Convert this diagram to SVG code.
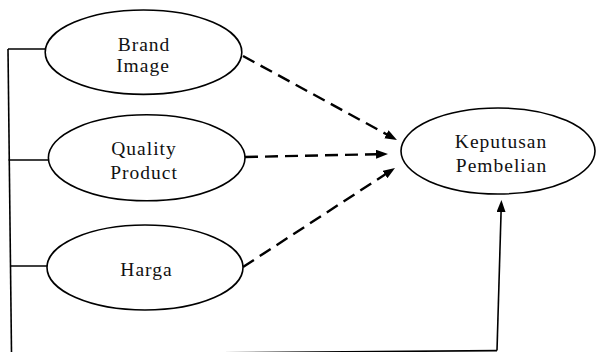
<svg xmlns="http://www.w3.org/2000/svg" width="596" height="352" viewBox="0 0 596 352">
<style>
.node ellipse{fill:#fff;stroke:#000;stroke-width:1.6}
.node text{font-family:'Liberation Serif','DejaVu Serif',serif;font-size:19.5px;letter-spacing:1px;text-anchor:middle;fill:#111}
.solid{fill:none;stroke:#000;stroke-width:1.6}
.dash{fill:none;stroke:#000;stroke-width:2.4;stroke-dasharray:13 7}
</style>
<defs>
<marker id="ah" markerUnits="userSpaceOnUse" markerWidth="13" markerHeight="10" refX="1" refY="4.5" orient="auto">
<path d="M0,0 L12,4.5 L0,9 z" fill="#000"/>
</marker>
</defs>
<g id="connectors">
<path class="solid" d="M8,49 L11.5,353"/>
<path class="solid" d="M8,49 H45"/>
<path class="solid" d="M8.5,160 H48"/>
<path class="solid" d="M10,266 H47"/>
<path class="solid" d="M10,354.5 L497,350.6"/>
<path class="solid" d="M497,350.6 L501.1,211" marker-end="url(#ah)"/>
<path class="dash" d="M243,56 L387.3,134.7" marker-end="url(#ah)"/>
<path class="dash" d="M245,157 L377,154.2" marker-end="url(#ah)"/>
<path class="dash" d="M243,267 L385.8,174" marker-end="url(#ah)"/>
</g>
<g id="brand" class="node">
<ellipse cx="143.5" cy="52.2" rx="98.3" ry="42.2"/>
<text x="144" y="51">Brand</text>
<text x="143" y="71.5">Image</text>
</g>
<g id="quality" class="node">
<ellipse cx="146.7" cy="157.8" rx="98.3" ry="43"/>
<text x="144" y="155">Quality</text>
<text x="144" y="179">Product</text>
</g>
<g id="harga" class="node">
<ellipse cx="145" cy="267.5" rx="98" ry="42.5"/>
<text x="146.5" y="276">Harga</text>
</g>
<g id="keputusan" class="node">
<ellipse cx="498" cy="151" rx="97" ry="43"/>
<text x="501" y="148">Keputusan</text>
<text x="501.5" y="171.5">Pembelian</text>
</g>
</svg>
